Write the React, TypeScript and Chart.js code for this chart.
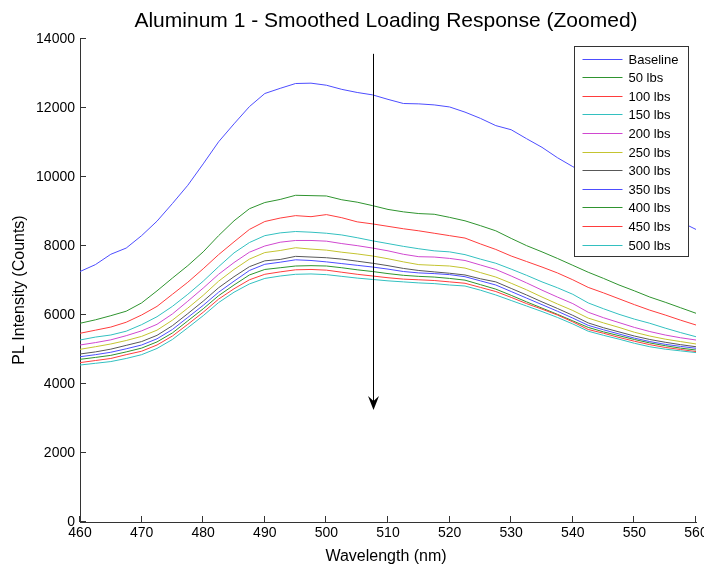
import React, { useEffect, useRef } from "react";
import { Chart, registerables } from "chart.js";

Chart.register(...registerables);

// ---------------- data ----------------
const wavelengths = [
  460, 462.5, 465, 467.5, 470, 472.5, 475, 477.5, 480, 482.5, 485, 487.5, 490, 492.5,
  495, 497.5, 500, 502.5, 505, 507.5, 510, 512.5, 515, 517.5, 520, 522.5, 525, 527.5,
  530, 532.5, 535, 537.5, 540, 542.5, 545, 547.5, 550, 552.5, 555, 557.5, 560,
];

const baseline = [7260, 7460, 7760, 7940, 8300, 8720, 9230, 9760, 10380, 11020, 11540, 12040, 12420, 12570, 12710, 12720, 12660, 12540, 12450, 12380, 12250, 12130, 12120, 12090, 12030, 11880, 11700, 11490, 11370, 11110, 10860, 10560, 10300, 10080, 9850, 9600, 9350, 9150, 8950, 8700, 8480];
const lbs50 = [5760, 5860, 5980, 6110, 6350, 6700, 7070, 7430, 7830, 8300, 8730, 9080, 9260, 9350, 9470, 9460, 9450, 9340, 9270, 9170, 9060, 8990, 8940, 8920, 8830, 8730, 8590, 8440, 8220, 8010, 7830, 7640, 7440, 7240, 7060, 6870, 6700, 6520, 6370, 6210, 6050];
const lbs100 = [5470, 5560, 5650, 5790, 6000, 6250, 6600, 6950, 7340, 7750, 8120, 8480, 8710, 8810, 8880, 8850, 8910, 8820, 8700, 8640, 8570, 8500, 8440, 8370, 8300, 8230, 8060, 7900, 7710, 7550, 7390, 7220, 7020, 6800, 6640, 6470, 6300, 6140, 6000, 5850, 5710];
const lbs150 = [5275, 5360, 5420, 5530, 5720, 5950, 6250, 6600, 6980, 7400, 7800, 8100, 8300, 8380, 8420, 8400, 8370, 8320, 8240, 8150, 8070, 7990, 7920, 7860, 7830, 7750, 7620, 7500, 7330, 7150, 6960, 6790, 6600, 6350, 6180, 6020, 5880, 5760, 5620, 5490, 5370];
const lbs200 = [5130, 5200, 5280, 5400, 5540, 5730, 6030, 6400, 6780, 7180, 7520, 7820, 8000, 8110, 8160, 8160, 8140, 8070, 8010, 7940, 7860, 7760, 7690, 7680, 7640, 7580, 7450, 7320, 7130, 6930, 6720, 6520, 6330, 6080, 5920, 5780, 5640, 5520, 5420, 5340, 5275];
const lbs250 = [5005, 5080, 5160, 5260, 5380, 5560, 5850, 6200, 6570, 6980, 7320, 7620, 7810, 7870, 7950, 7910, 7880, 7820, 7770, 7710, 7630, 7540, 7460, 7440, 7420, 7360, 7230, 7100, 6920, 6730, 6520, 6320, 6130, 5910, 5770, 5640, 5500, 5390, 5300, 5230, 5160];
const lbs300 = [4870, 4930, 5010, 5120, 5230, 5410, 5690, 6040, 6400, 6790, 7110, 7400, 7570, 7610, 7700, 7680, 7660, 7620, 7560, 7500, 7430, 7350, 7290, 7250, 7210, 7160, 7050, 6960, 6770, 6580, 6380, 6190, 5990, 5770, 5630, 5510, 5390, 5290, 5210, 5140, 5080];
const lbs350 = [4790, 4850, 4920, 5020, 5130, 5310, 5580, 5930, 6280, 6660, 6980, 7290, 7470, 7530, 7600, 7580, 7540, 7490, 7440, 7390, 7330, 7260, 7220, 7200, 7170, 7110, 6990, 6870, 6680, 6490, 6300, 6110, 5910, 5700, 5570, 5450, 5330, 5230, 5150, 5090, 5035];
const lbs400 = [4715, 4770, 4830, 4930, 5040, 5220, 5480, 5830, 6180, 6560, 6870, 7160, 7320, 7370, 7420, 7430, 7420, 7370, 7310, 7260, 7200, 7150, 7120, 7100, 7060, 7010, 6880, 6750, 6570, 6380, 6200, 6020, 5830, 5640, 5510, 5400, 5290, 5190, 5110, 5040, 4985];
const lbs450 = [4620, 4680, 4740, 4850, 4950, 5130, 5390, 5730, 6080, 6460, 6760, 7020, 7180, 7250, 7310, 7320, 7300, 7240, 7180, 7130, 7080, 7040, 7020, 7000, 6960, 6920, 6800, 6680, 6510, 6330, 6170, 6000, 5800, 5580, 5470, 5350, 5240, 5140, 5060, 5000, 4940];
const lbs500 = [4550, 4600, 4650, 4740, 4850, 5030, 5290, 5630, 5980, 6360, 6660, 6900, 7060, 7130, 7180, 7190, 7170, 7120, 7070, 7030, 6990, 6960, 6930, 6910, 6870, 6840, 6720, 6580, 6420, 6260, 6100, 5930, 5740, 5530, 5410, 5300, 5180, 5080, 5010, 4960, 4910];

const seriesLabels = ["Baseline", "50 lbs", "100 lbs", "150 lbs", "200 lbs", "250 lbs", "300 lbs", "350 lbs", "400 lbs", "450 lbs", "500 lbs"];
const seriesValues = [baseline, lbs50, lbs100, lbs150, lbs200, lbs250, lbs300, lbs350, lbs400, lbs450, lbs500];

const BLUE = "#4d4dff";
const GREEN = "#2f942f";
const RED = "#ff3d3d";
const CYAN = "#33c0c0";
const MAGENTA = "#d048d0";
const YELLOW = "#c4c430";
const GRAY = "#585858";
const seriesColors = [BLUE, GREEN, RED, CYAN, MAGENTA, YELLOW, GRAY, BLUE, GREEN, RED, CYAN];

const xMin = 460;
const xMax = 560;
const xStep = 10;
const yMin = 0;
const yMax = 14000;
const yStep = 2000;

const titleText = "Aluminum 1 - Smoothed Loading Response (Zoomed)";
const xTitle = "Wavelength (nm)";
const yTitle = "PL Intensity (Counts)";

// arrow annotation (data coordinates)
const arrowX = 507.6;
const arrowTopY = 13570;
const arrowTipY = 3250;

const FONT = "'Liberation Sans', Arial, Helvetica, sans-serif";
const AXIS_COLOR = "#333333";

const decorPlugin = {
  id: "decor",
  afterDatasetsDraw(chart: any) {
    const { ctx, chartArea, scales } = chart;
    const x = scales.x;
    const y = scales.y;
    ctx.save();

    // inward tick marks
    ctx.strokeStyle = AXIS_COLOR;
    ctx.lineWidth = 1;
    ctx.beginPath();
    x.ticks.forEach((t: any) => {
      const px = Math.round(x.getPixelForValue(t.value)) - 0.5;
      ctx.moveTo(px, chartArea.bottom);
      ctx.lineTo(px, chartArea.bottom - 6);
    });
    y.ticks.forEach((t: any) => {
      const py = Math.round(y.getPixelForValue(t.value)) - 0.5;
      ctx.moveTo(chartArea.left, py);
      ctx.lineTo(chartArea.left + 6, py);
    });
    ctx.stroke();

    // arrow
    const ax = Math.round(x.getPixelForValue(arrowX)) + 0.5;
    const ay0 = y.getPixelForValue(arrowTopY);
    const ay1 = y.getPixelForValue(arrowTipY);
    ctx.strokeStyle = "#000";
    ctx.beginPath();
    ctx.moveTo(ax, ay0);
    ctx.lineTo(ax, ay1 - 6);
    ctx.stroke();
    ctx.fillStyle = "#000";
    ctx.beginPath();
    ctx.moveTo(ax, ay1);
    ctx.lineTo(ax - 5.5, ay1 - 14);
    ctx.lineTo(ax, ay1 - 9);
    ctx.lineTo(ax + 5.5, ay1 - 14);
    ctx.closePath();
    ctx.fill();

    // legend
    const bw = 114;
    const bh = 210;
    const bx = Math.round(chartArea.right - 8 - bw) + 0.5;
    const by = Math.round(chartArea.top + 7) + 0.5;
    ctx.fillStyle = "#fff";
    ctx.fillRect(bx, by, bw, bh);
    ctx.strokeStyle = AXIS_COLOR;
    ctx.strokeRect(bx, by, bw, bh);
    const rowH = 18.6;
    ctx.font = `13px ${FONT}`;
    ctx.textBaseline = "middle";
    ctx.textAlign = "left";
    chart.data.datasets.forEach((ds: any, i: number) => {
      const cy = Math.round(by + 12 + i * rowH) + 0.5;
      ctx.strokeStyle = ds.borderColor;
      ctx.beginPath();
      ctx.moveTo(bx + 8, cy);
      ctx.lineTo(bx + 48, cy);
      ctx.stroke();
      ctx.fillStyle = "#000";
      ctx.fillText(ds.label, bx + 54, cy + 0.5);
    });

    // titles
    ctx.fillStyle = "#000";
    ctx.textAlign = "center";
    ctx.textBaseline = "middle";
    ctx.font = `21px ${FONT}`;
    ctx.fillText(titleText, (chartArea.left + chartArea.right) / 2 - 2, 21);
    ctx.font = `16px ${FONT}`;
    ctx.fillText(xTitle, (chartArea.left + chartArea.right) / 2 - 2, 557);
    ctx.save();
    ctx.translate(20, 290);
    ctx.rotate(-Math.PI / 2);
    ctx.fillText(yTitle, 0, 0);
    ctx.restore();

    ctx.restore();
  },
};

export default function App() {
  const ref = useRef<HTMLCanvasElement>(null);
  useEffect(() => {
    document.body.style.margin = "0";
    const n = seriesValues.length;
    const chart = new Chart(ref.current as HTMLCanvasElement, {
      type: "line",
      data: {
        datasets: seriesValues.map((vals, i) => ({
          label: seriesLabels[i],
          data: vals.map((v, j) => ({ x: wavelengths[j], y: v })),
          borderColor: seriesColors[i],
          backgroundColor: seriesColors[i],
          borderWidth: 1,
          pointRadius: 0,
          fill: false,
          tension: 0,
          order: n - i,
        })),
      },
      options: {
        responsive: false,
        animation: false,
        events: [],
        layout: { padding: { top: 39, right: 8, left: 0, bottom: 0 } },
        plugins: {
          legend: { display: false },
          tooltip: { enabled: false },
          title: { display: false },
        },
        scales: {
          x: {
            type: "linear",
            min: xMin,
            max: xMax,
            ticks: {
              stepSize: xStep,
              autoSkip: false,
              maxRotation: 0,
              padding: 3,
              color: "#000",
              font: { family: FONT, size: 14 },
              callback: (v: any) => String(v),
            },
            grid: { display: false, drawTicks: false },
            border: { display: true, color: AXIS_COLOR, width: 1 },
            afterFit: (s: any) => {
              s.height = 44;
              s.paddingLeft = 0;
              s.paddingRight = 0;
            },
          },
          y: {
            type: "linear",
            min: yMin,
            max: yMax,
            ticks: {
              stepSize: yStep,
              autoSkip: false,
              padding: 5,
              color: "#000",
              font: { family: FONT, size: 14 },
              callback: (v: any) => String(v),
            },
            grid: { display: false, drawTicks: false },
            border: { display: true, color: AXIS_COLOR, width: 1 },
            afterFit: (s: any) => {
              s.width = 80;
              s.paddingTop = 0;
              s.paddingBottom = 0;
            },
          },
        },
      } as any,
      plugins: [decorPlugin],
    });
    return () => chart.destroy();
  }, []);

  return (
    <div style={{ position: "absolute", left: 0, top: 0, width: 704, height: 566, background: "#fff" }}>
      <canvas ref={ref} width={704} height={566} style={{ display: "block" }} />
    </div>
  );
}
